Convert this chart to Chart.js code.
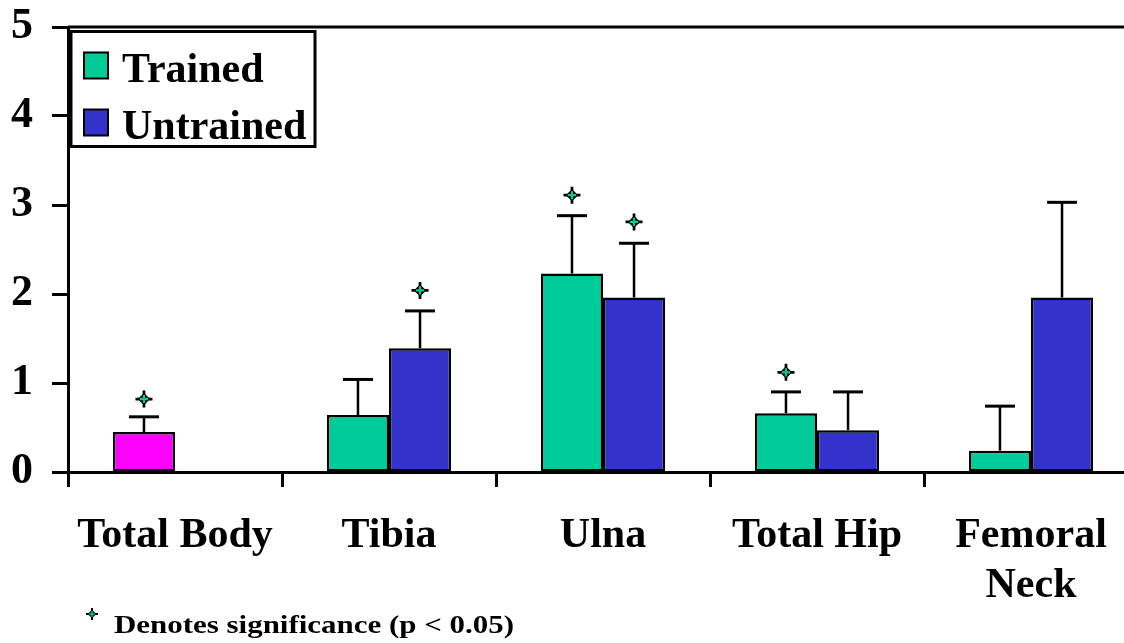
<!DOCTYPE html>
<html>
<head>
<meta charset="utf-8">
<title>Bone density change: trained vs untrained</title>
<script src="https://cdn.jsdelivr.net/npm/chart.js@4/dist/chart.umd.min.js"></script>
<style>
  html, body { margin: 0; padding: 0; background: #fff; overflow: hidden; }
  #wrap { position: relative; width: 1140px; height: 643px; }
</style>
</head>
<body>
<div id="wrap"><canvas id="chart" width="1140" height="643"></canvas></div>
<script>
// Sites measured
const categories = ['Total Body', 'Tibia', 'Ulna', 'Total Hip', ['Femoral', 'Neck']];

// Mean change per group (Total Body has a single pooled value)
const trainedMeans   = [0.45, 0.64, 2.23, 0.66, 0.24];
const untrainedMeans = [null, 1.39, 1.96, 0.47, 1.96];

// Upper error bar length above each mean
const trainedErr   = [0.17, 0.40, 0.65, 0.24, 0.50];
const untrainedErr = [null, 0.42, 0.61, 0.43, 1.07];

// Height at which the significance marker sits (null = not significant)
const trainedSig   = [0.82, null, 3.11, 1.12, null];
const untrainedSig = [null, 2.04, 2.81, null, null];

// Value axis
const yMin = 0, yMax = 5, yStep = 1;

const seriesNames = ['Trained', 'Untrained'];
const footnoteText = 'Denotes significance (p < 0.05)';

const GREEN = '#00CC99', BLUE = '#3333CC', MAGENTA = '#FF00FF';
const FONT = "'Liberation Serif', 'Times New Roman', serif";

function drawStar(ctx, cx, cy, r) {
  ctx.save();
  ctx.strokeStyle = '#000';
  ctx.fillStyle = '#000';
  ctx.lineWidth = Math.max(2, r * 0.32);
  ctx.beginPath();
  ctx.moveTo(cx - r, cy); ctx.lineTo(cx + r, cy);
  ctx.moveTo(cx, cy - r); ctx.lineTo(cx, cy + r);
  ctx.stroke();
  const d = r * 0.72;
  ctx.beginPath();
  ctx.moveTo(cx, cy - d); ctx.lineTo(cx + d, cy); ctx.lineTo(cx, cy + d); ctx.lineTo(cx - d, cy);
  ctx.closePath();
  ctx.fill();
  ctx.fillRect(cx - d * 0.5, cy - d * 0.5, d, d);
  ctx.strokeStyle = GREEN;
  ctx.lineWidth = Math.max(1.5, r * 0.26);
  const g = r * 0.48;
  ctx.beginPath();
  ctx.moveTo(cx - g, cy); ctx.lineTo(cx + g, cy);
  ctx.moveTo(cx, cy - g); ctx.lineTo(cx, cy + g);
  ctx.stroke();
  ctx.restore();
}

const decorations = {
  id: 'decorations',
  afterDatasetsDraw(chart) {
    const ctx = chart.ctx;
    const ys = chart.scales.y;
    const area = chart.chartArea;
    ctx.save();

    // frame line along the top of the value range
    ctx.strokeStyle = '#000';
    ctx.lineWidth = 3;
    const yTop = ys.getPixelForValue(yMax);
    ctx.beginPath();
    ctx.moveTo(area.left, yTop);
    ctx.lineTo(chart.width, yTop);
    ctx.stroke();

    // error bars and significance markers
    const groups = [
      [0, trainedMeans, trainedErr, trainedSig],
      [1, untrainedMeans, untrainedErr, untrainedSig]
    ];
    groups.forEach(([di, means, errs, sig]) => {
      const meta = chart.getDatasetMeta(di);
      meta.data.forEach((bar, i) => {
        if (means[i] == null) return;
        const x = bar.x;
        if (errs[i] != null) {
          const y0 = ys.getPixelForValue(means[i]);
          const y1 = ys.getPixelForValue(means[i] + errs[i]);
          ctx.strokeStyle = '#000';
          ctx.lineWidth = 2.5;
          ctx.beginPath();
          ctx.moveTo(x, y0); ctx.lineTo(x, y1);
          ctx.stroke();
          ctx.lineWidth = 3;
          ctx.beginPath();
          ctx.moveTo(x - 15, y1); ctx.lineTo(x + 15, y1);
          ctx.stroke();
        }
        if (sig[i] != null) drawStar(ctx, x, ys.getPixelForValue(sig[i]), 8.5);
      });
    });
    ctx.restore();
  },
  afterDraw(chart) {
    const ctx = chart.ctx;
    const area = chart.chartArea;
    ctx.save();

    // legend box
    const bx = area.left + 3, by = area.top + 4.5, bw = 244, bh = 115;
    ctx.fillStyle = '#fff';
    ctx.fillRect(bx, by, bw, bh);
    ctx.strokeStyle = '#000';
    ctx.lineWidth = 3;
    ctx.strokeRect(bx, by, bw, bh);

    const swatches = [GREEN, BLUE];
    ctx.font = 'bold 42px ' + FONT;
    ctx.textBaseline = 'alphabetic';
    ctx.textAlign = 'left';
    seriesNames.forEach((name, k) => {
      const sy = by + 21 + k * 57;
      ctx.fillStyle = swatches[k];
      ctx.fillRect(bx + 13, sy, 24, 26);
      ctx.lineWidth = 2;
      ctx.strokeStyle = '#000';
      ctx.strokeRect(bx + 13, sy, 24, 26);
      ctx.fillStyle = '#000';
      ctx.fillText(name, bx + 51, sy + 29);
    });

    // footnote
    drawStar(ctx, 92, 614, 6);
    ctx.font = 'bold 25px ' + FONT;
    ctx.fillStyle = '#000';
    const w = ctx.measureText(footnoteText).width;
    const sx = 400 / w;
    ctx.translate(114, 633);
    ctx.scale(sx, 1);
    ctx.fillText(footnoteText, 0, 0);
    ctx.restore();
  }
};

const tickFont = { family: FONT, size: 42, weight: 'bold' };

new Chart(document.getElementById('chart'), {
  type: 'bar',
  data: {
    labels: categories,
    datasets: [
      {
        label: seriesNames[0],
        data: trainedMeans,
        backgroundColor: trainedMeans.map((v, i) => (i === 0 ? MAGENTA : GREEN)),
        borderColor: '#000',
        borderWidth: 2.5,
        borderSkipped: false,
        categoryPercentage: 0.58,
        barPercentage: 1.0
      },
      {
        label: seriesNames[1],
        data: untrainedMeans,
        backgroundColor: BLUE,
        borderColor: '#000',
        borderWidth: 2.5,
        borderSkipped: false,
        categoryPercentage: 0.58,
        barPercentage: 1.0
      }
    ]
  },
  options: {
    responsive: false,
    animation: false,
    devicePixelRatio: 1,
    layout: { padding: { top: 27, right: 2, left: 0, bottom: 0 } },
    plugins: { legend: { display: false }, tooltip: { enabled: false } },
    scales: {
      x: {
        offset: true,
        grid: {
          display: true,
          offset: true,
          drawOnChartArea: false,
          drawTicks: true,
          tickLength: 15,
          tickWidth: 3,
          tickColor: '#000'
        },
        border: { display: true, color: '#000', width: 3 },
        ticks: {
          font: tickFont,
          color: '#000',
          padding: 24,
          maxRotation: 0,
          autoSkip: false
        },
        afterFit(scale) { scale.height = 171; }
      },
      y: {
        min: yMin,
        max: yMax,
        grid: {
          display: true,
          drawOnChartArea: false,
          drawTicks: true,
          tickLength: 16,
          tickWidth: 3,
          tickColor: '#000'
        },
        border: { display: true, color: '#000', width: 3 },
        ticks: {
          stepSize: yStep,
          font: { family: FONT, size: 44, weight: 'bold' },
          color: '#000',
          padding: 19
        },
        afterFit(scale) {
          scale.width = 68;
          scale.paddingTop = 0;
          scale.paddingBottom = 0;
        }
      }
    }
  },
  plugins: [decorations]
});
</script>
</body>
</html>
